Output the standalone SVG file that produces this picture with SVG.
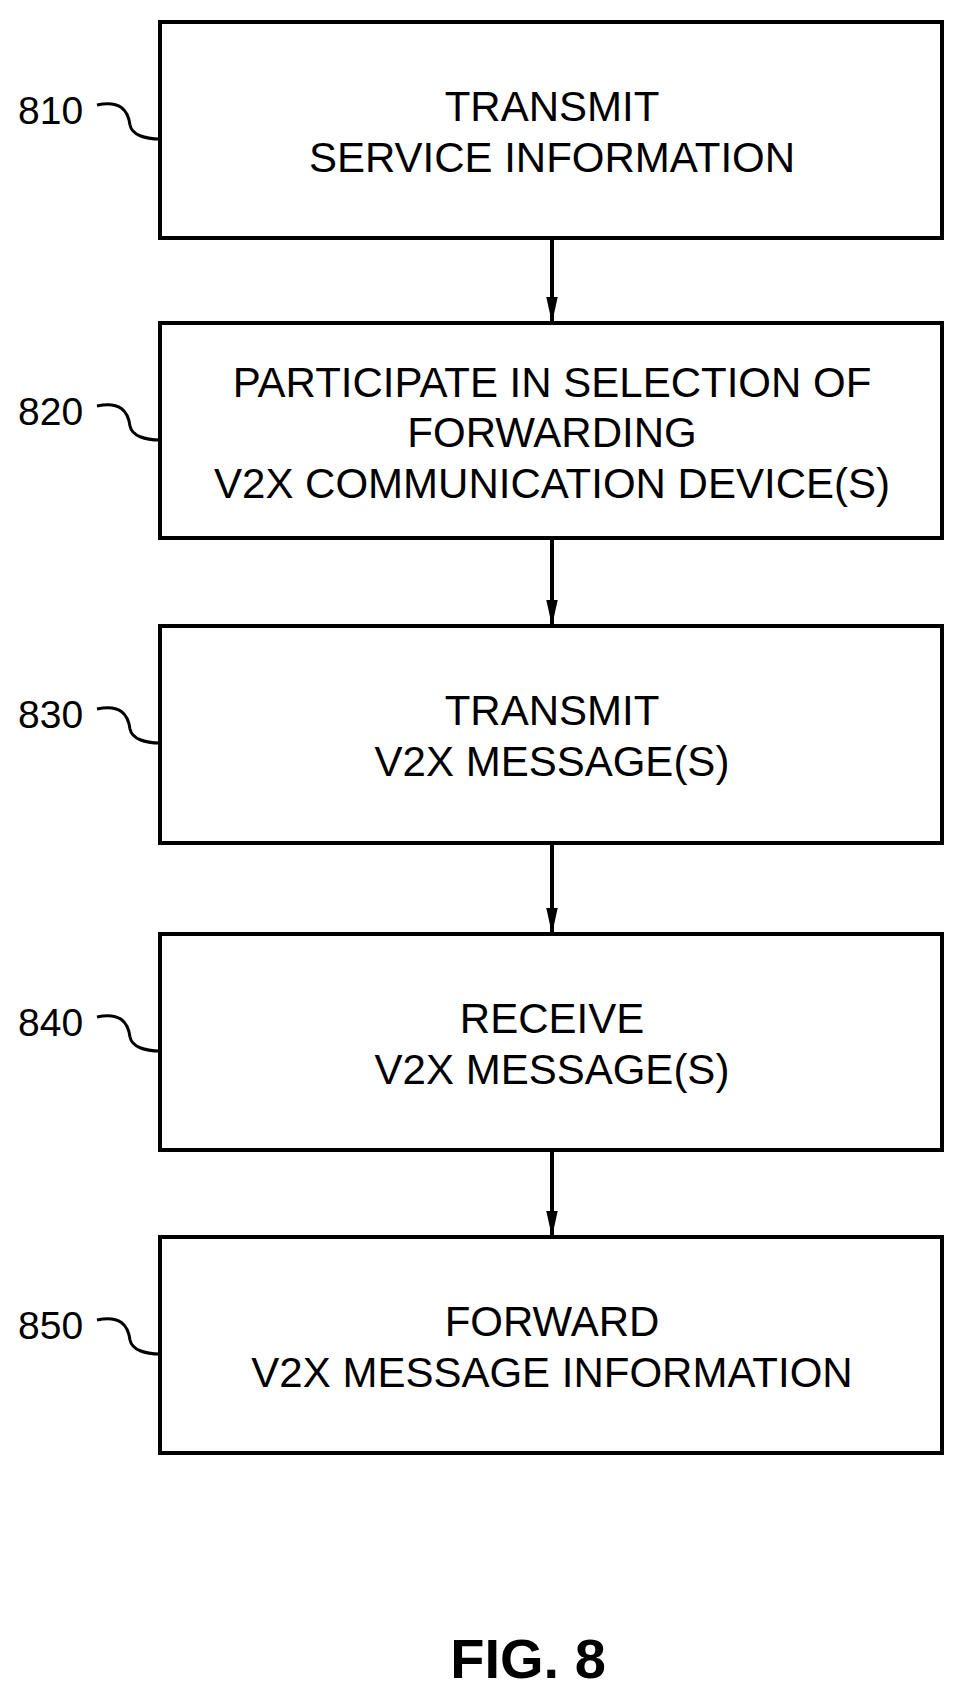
<svg xmlns="http://www.w3.org/2000/svg" width="964" height="1699" viewBox="0 0 964 1699">
<style>
.b{fill:#fff;stroke:#000;stroke-width:4}
.t{font-family:"Liberation Sans",Arial,sans-serif;font-size:42px;text-anchor:middle;fill:#000}
.l{font-family:"Liberation Sans",Arial,sans-serif;font-size:39px;fill:#000}
.s{fill:none;stroke:#000;stroke-width:3}
</style>
<defs>
<marker id="m" viewBox="0 0 10 10" refX="10" refY="5" markerWidth="26" markerHeight="26" orient="auto" markerUnits="userSpaceOnUse"><path d="M0,2.8L10,5L0,7.2z"/></marker></defs>
<rect width="964" height="1699" fill="#fff"/>
<g id="connectors">
<line x1="552" y1="238" x2="552" y2="323" stroke="#000" stroke-width="4" marker-end="url(#m)"/>
<line x1="552" y1="538" x2="552" y2="626" stroke="#000" stroke-width="4" marker-end="url(#m)"/>
<line x1="552" y1="843" x2="552" y2="934" stroke="#000" stroke-width="4" marker-end="url(#m)"/>
<line x1="552" y1="1150" x2="552" y2="1237" stroke="#000" stroke-width="4" marker-end="url(#m)"/>
</g>
<g id="n810"><rect class="b" x="160" y="22" width="782" height="216"/>
<text class="t" x="552" y="121">TRANSMIT</text><text class="t" x="552" y="172">SERVICE INFORMATION</text>
<text class="l" x="18" y="124">810</text><path class="s" d="M97,105C120,100 128,110 130,125C132,135 145,139 160,139"/></g>
<g id="n820"><rect class="b" x="160" y="323" width="782" height="215"/>
<text class="t" x="552" y="397">PARTICIPATE IN SELECTION OF</text><text class="t" x="552" y="447">FORWARDING</text><text class="t" x="552" y="498">V2X COMMUNICATION DEVICE(S)</text>
<text class="l" x="18" y="425">820</text><path class="s" d="M97,406C120,401 128,411 130,426C132,436 145,440 160,440"/></g>
<g id="n830"><rect class="b" x="160" y="626" width="782" height="217"/>
<text class="t" x="552" y="725">TRANSMIT</text><text class="t" x="552" y="776">V2X MESSAGE(S)</text>
<text class="l" x="18" y="728">830</text><path class="s" d="M97,709C120,704 128,714 130,729C132,739 145,743 160,743"/></g>
<g id="n840"><rect class="b" x="160" y="934" width="782" height="216"/>
<text class="t" x="552" y="1033">RECEIVE</text><text class="t" x="552" y="1084">V2X MESSAGE(S)</text>
<text class="l" x="18" y="1036">840</text><path class="s" d="M97,1017C120,1012 128,1022 130,1037C132,1047 145,1051 160,1051"/></g>
<g id="n850"><rect class="b" x="160" y="1237" width="782" height="216"/>
<text class="t" x="552" y="1336">FORWARD</text><text class="t" x="552" y="1387">V2X MESSAGE INFORMATION</text>
<text class="l" x="18" y="1339">850</text><path class="s" d="M97,1320C120,1315 128,1325 130,1340C132,1350 145,1354 160,1354"/></g>
<text x="528" y="1678" font-family="Liberation Sans,Arial,sans-serif" font-size="56" font-weight="bold" text-anchor="middle">FIG. 8</text>
</svg>
